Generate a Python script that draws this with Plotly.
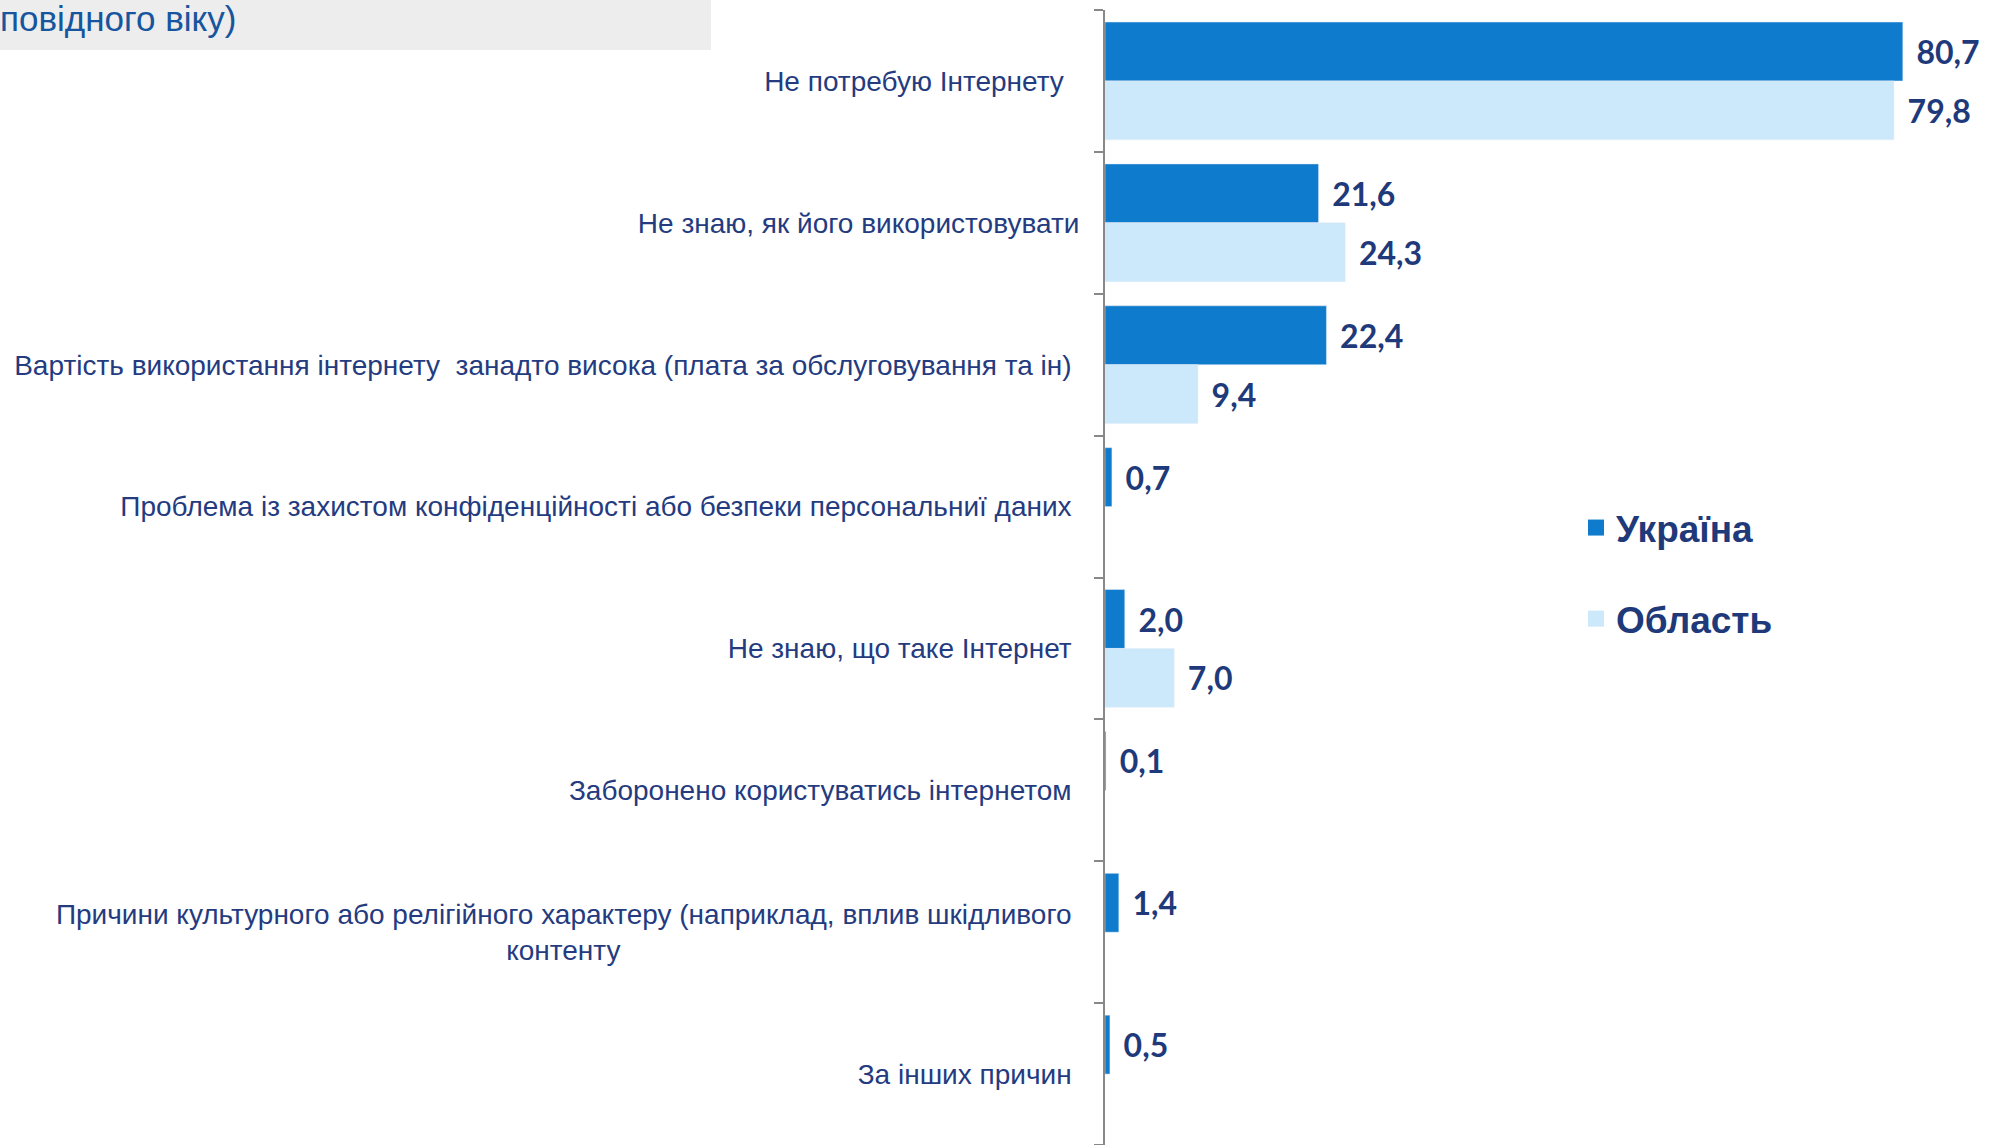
import plotly.graph_objects as go

categories = [
    "Не потребую Інтернету",
    "Не знаю, як його використовувати",
    "Вартість використання інтернету  занадто висока (плата за обслуговування та ін)",
    "Проблема із захистом конфіденційності або безпеки персональниї даних",
    "Не знаю, що таке Інтернет",
    "Заборонено користуватись інтернетом",
    "Причини культурного або релігійного характеру (наприклад, вплив шкідливого<br>контенту",
    "За інших причин",
]
ukraine = [80.7, 21.6, 22.4, 0.7, 2.0, 0.1, 1.4, 0.5]
oblast = [79.8, 24.3, 9.4, None, 7.0, None, None, None]
series_names = ["Україна", "Область"]
series_colors = ["#0E7BCD", "#CCE8FB"]
header_text = "повідного віку)"

NB = "\u00a0"
tick_text = []
for i, c in enumerate(categories):
    if "<br>" in c:
        a, b = c.split("<br>")
        tick_text.append(a + NB + "<br>" + b + NB * 59)
    elif i == 0:
        tick_text.append(c + NB * 2)
    elif i == 1:
        tick_text.append(c)
    else:
        tick_text.append(c + NB)

W, H = 1990, 1145
ML, MR, MT, MB = 1105, 15, 10, 0
PW = W - ML - MR
PH = H - MT - MB


def px_x(px):
    return (px - ML) / PW


def px_y(py):
    return 1 - (py - MT) / PH


label_font = dict(family="Lato", size=32, color="#1F3A7A", weight="bold")

fig = go.Figure()
for name, vals, col in zip(series_names, [ukraine, oblast], series_colors):
    fig.add_trace(go.Bar(
        y=categories, x=vals, orientation="h", name=name,
        marker=dict(color=col), showlegend=False,
        texttemplate="\u2004%{x:.1f}", textposition="outside",
        textfont=label_font, cliponaxis=False, constraintext="none",
        hoverinfo="skip",
    ))
# legend entries with larger square swatches
for i, (name, col) in enumerate(zip(series_names, series_colors)):
    fig.add_trace(go.Scatter(
        x=[None], y=[None], mode="markers", name=name, legendgroup=str(i),
        marker=dict(symbol="square", size=16, color=col),
        hoverinfo="skip",
    ))

fig.add_shape(type="rect", xref="paper", yref="paper",
              x0=px_x(0), x1=px_x(711), y0=px_y(50), y1=px_y(0),
              fillcolor="#EDEDED", line=dict(width=0), layer="below")
fig.add_annotation(text=header_text, xref="paper", yref="paper",
                   x=px_x(-2), y=px_y(19), xanchor="left", yanchor="middle",
                   showarrow=False,
                   font=dict(family="Liberation Sans", size=35, color="#17559E"))

fig.update_layout(
    width=W, height=H,
    margin=dict(l=ML, r=MR, t=MT, b=MB),
    paper_bgcolor="white", plot_bgcolor="white",
    barmode="group", bargap=0.17, bargroupgap=0.0,
    separators=", ",
    showlegend=True,
    legend=dict(x=px_x(1576), y=px_y(497), xanchor="left", yanchor="top",
                orientation="v", tracegroupgap=40,
                font=dict(family="Liberation Sans", size=37, color="#1F3A7A", weight="bold"),
                bgcolor="rgba(0,0,0,0)"),
    xaxis=dict(range=[0, 88], visible=False, showgrid=False, zeroline=False),
    yaxis=dict(
        autorange="reversed", tickmode="array", tickvals=categories, ticktext=tick_text,
        tickson="boundaries", ticks="outside", ticklen=9, tickcolor="#888888", tickwidth=2,
        showline=True, linecolor="#888888", linewidth=2, showgrid=False,
        ticklabelstandoff=18,
        tickfont=dict(family="Liberation Sans", size=28, color="#243B80"),
    ),
)

fig.write_html("out.html", config={"displayModeBar": False},
               post_script="document.body.style.margin='0';document.body.style.overflow='hidden';")
